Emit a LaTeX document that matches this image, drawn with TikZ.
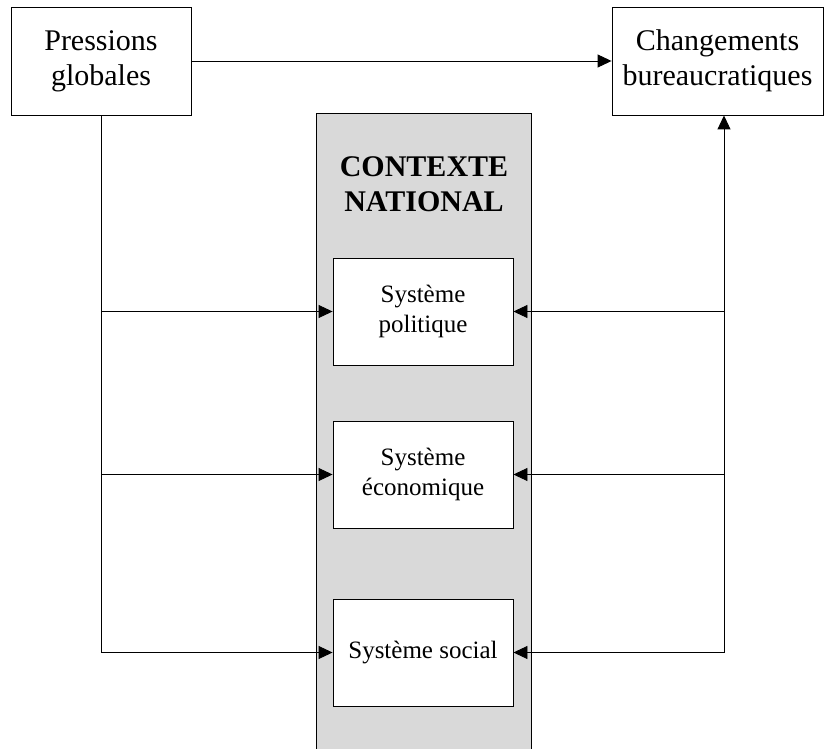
\documentclass[tikz,border=0pt]{standalone}
\usepackage{fontspec}
\setmainfont{Liberation Serif}
\usetikzlibrary{arrows.meta}
\definecolor{ctxgray}{HTML}{D9D9D9}
\tikzset{
  bigbox/.style={draw, line width=0.9pt, fill=white, align=center, font=\fontsize{30}{35}\selectfont, inner sep=0pt},
  sysbox/.style={draw, line width=0.9pt, fill=white, align=center, minimum width=180pt, minimum height=107pt, inner sep=0pt, font=\fontsize{25}{30}\selectfont},
  conn/.style={line width=0.9pt},
  arr/.style={conn, -{Triangle[length=14pt,width=13pt]}},
  biarr/.style={conn, {Triangle[length=14pt,width=13pt]}-{Triangle[length=14pt,width=13pt]}}
}
\begin{document}
\begin{tikzpicture}[x=1pt,y=-1pt]
\useasboundingbox (0,0) rectangle (824,749);
\clip (0,0) rectangle (824,749);
\fill[white] (0,0) rectangle (824,749);
% national context column
\draw[line width=0.9pt, fill=ctxgray] (316,113) rectangle (531,760);
\node[font=\bfseries\fontsize{30}{35}\selectfont, align=center] (title) at (424,184) {CONTEXTE\\NATIONAL};
% top boxes
\node[bigbox, minimum width=180pt, minimum height=108pt] (pg) at (101,61) {Pressions\\globales};
\node[bigbox, minimum width=211pt, minimum height=108pt] (cb) at (717.5,61) {Changements\\bureaucratiques};
% systems
\node[sysbox] (pol) at (423,311.5) {Système\\politique};
\node[sysbox] (eco) at (423,474.5) {Système\\économique};
\node[sysbox] (soc) at (423,652.5) {Système social};
% connectors
\draw[arr] (pg.east) -- (cb.west);
\draw[arr] (pg.south) |- (soc.west);
\draw[arr] (pg.south |- pol.west) -- (pol.west);
\draw[arr] (pg.south |- eco.west) -- (eco.west);
\coordinate (cbin) at ([xshift=6.5pt]cb.south);
\draw[biarr] (soc.east) -| (cbin);
\draw[arr] (cbin |- pol.east) -- (pol.east);
\draw[arr] (cbin |- eco.east) -- (eco.east);
\end{tikzpicture}
\end{document}
